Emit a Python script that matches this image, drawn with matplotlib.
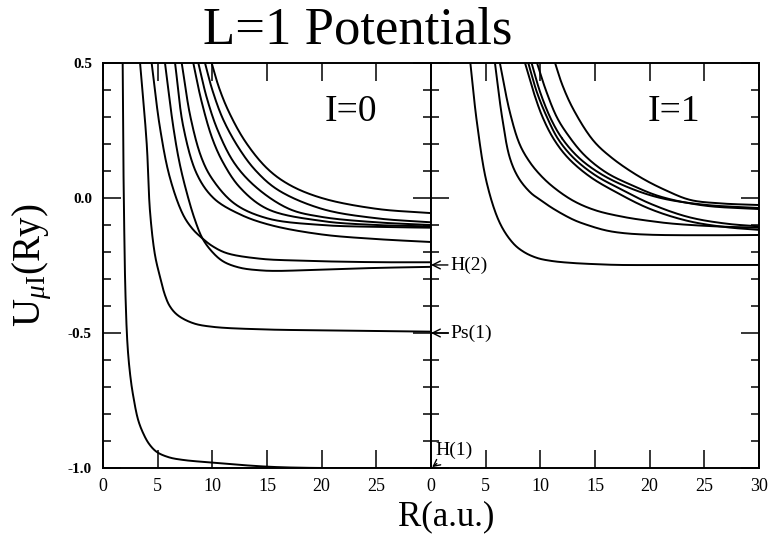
import numpy as np
import matplotlib
matplotlib.use("Agg")
import matplotlib.pyplot as plt
from matplotlib.ticker import MultipleLocator

# ---- data: (R, U) points per potential curve ----
# I = 0 panel
i0_H1_r = [1.80, 1.85, 1.92, 2.05, 2.25, 2.50, 2.75, 3.20, 3.66, 4.20, 4.90, 6.00, 7.30, 10.0, 15.0, 20.0, 30.0]
i0_H1_u = [0.50, 0.20, -0.05, -0.35, -0.55, -0.66, -0.73, -0.82, -0.87, -0.91, -0.94, -0.96, -0.97, -0.98, -0.995, -1.0, -1.0]
i0_Ps1_r = [3.39, 4.00, 4.30, 4.75, 5.20, 5.67, 6.10, 6.80, 8.20, 10.0, 15.0, 20.0, 30.0]
i0_Ps1_u = [0.50, 0.20, -0.05, -0.21, -0.29, -0.36, -0.40, -0.433, -0.463, -0.477, -0.487, -0.49, -0.495]
i0_a_r = [4.45, 5.20, 6.10, 7.30, 8.20, 9.10, 10.0, 11.3, 14.4, 18.0, 22.0, 26.0, 30.0]
i0_a_u = [0.50, 0.263, 0.078, -0.06, -0.115, -0.150, -0.178, -0.204, -0.225, -0.232, -0.236, -0.238, -0.238]
i0_b_r = [5.67, 6.43, 7.00, 7.66, 8.40, 9.10, 10.0, 11.0, 12.5, 14.4, 16.0, 20.0, 25.0, 30.0]
i0_b_u = [0.50, 0.263, 0.13, 0.02, -0.08, -0.150, -0.20, -0.235, -0.258, -0.268, -0.27, -0.265, -0.259, -0.255]
i0_c_r = [6.59, 7.35, 8.57, 10.1, 12.5, 15.3, 20.0, 25.0, 30.0]
i0_c_u = [0.50, 0.263, 0.09, 0.00, -0.06, -0.10, -0.135, -0.152, -0.163]
i0_d_r = [7.20, 8.00, 9.00, 10.0, 12.0, 15.0, 20.0, 25.0, 30.0]
i0_d_u = [0.50, 0.30, 0.15, 0.07, -0.02, -0.075, -0.10, -0.107, -0.11]
i0_e_r = [8.26, 9.00, 10.0, 11.0, 12.5, 15.0, 20.0, 25.0, 30.0]
i0_e_u = [0.50, 0.36, 0.22, 0.13, 0.04, -0.04, -0.085, -0.10, -0.105]
i0_f_r = [8.72, 9.50, 10.5, 12.0, 14.0, 17.0, 20.0, 25.0, 30.0]
i0_f_u = [0.50, 0.37, 0.25, 0.13, 0.04, -0.04, -0.07, -0.09, -0.10]
i0_g_r = [9.33, 10.0, 11.0, 12.5, 14.0, 16.0, 20.0, 25.0, 30.0]
i0_g_u = [0.50, 0.40, 0.29, 0.18, 0.10, 0.03, -0.04, -0.075, -0.09]
i0_h_r = [9.94, 10.6, 11.5, 13.0, 15.0, 17.0, 20.0, 25.0, 30.0]
i0_h_u = [0.50, 0.41, 0.32, 0.21, 0.11, 0.05, 0.00, -0.04, -0.056]

# I = 1 panel
i1_a_r = [3.60, 4.20, 5.10, 6.30, 7.50, 8.50, 9.70, 11.0, 12.7, 15.0, 17.3, 22.0, 30.0]
i1_a_u = [0.50, 0.28, 0.056, -0.093, -0.167, -0.20, -0.222, -0.233, -0.24, -0.245, -0.248, -0.248, -0.248]
i1_b_r = [5.85, 6.50, 7.20, 8.00, 9.10, 10.0, 11.2, 13.0, 14.3, 16.0, 17.6, 20.0, 25.0, 30.0]
i1_b_u = [0.50, 0.30, 0.15, 0.075, 0.02, -0.007, -0.04, -0.08, -0.10, -0.12, -0.13, -0.136, -0.138, -0.137]
i1_c_r = [6.30, 7.20, 8.10, 9.00, 10.0, 11.2, 13.0, 15.0, 17.6, 20.0, 22.1, 26.0, 30.0]
i1_c_u = [0.50, 0.32, 0.20, 0.135, 0.085, 0.04, -0.01, -0.045, -0.07, -0.085, -0.095, -0.105, -0.11]
i1_d_r = [8.60, 9.40, 10.2, 11.2, 12.5, 14.5, 17.0, 20.0, 23.5, 27.0, 30.0]
i1_d_u = [0.50, 0.39, 0.30, 0.22, 0.15, 0.08, 0.02, -0.04, -0.085, -0.108, -0.118]
i1_e_r = [8.90, 9.70, 10.6, 11.6, 13.0, 15.0, 17.5, 20.0, 23.5, 27.0, 30.0]
i1_e_u = [0.50, 0.39, 0.30, 0.22, 0.15, 0.085, 0.03, -0.02, -0.07, -0.095, -0.105]
i1_f_r = [9.20, 10.0, 11.0, 12.0, 13.5, 15.5, 18.0, 21.0, 25.0, 30.0]
i1_f_u = [0.50, 0.39, 0.29, 0.22, 0.15, 0.09, 0.04, 0.00, -0.025, -0.037]
i1_g_r = [9.70, 10.5, 11.5, 12.5, 14.0, 16.0, 18.5, 21.0, 25.0, 30.0]
i1_g_u = [0.50, 0.40, 0.30, 0.235, 0.16, 0.095, 0.045, 0.005, -0.028, -0.041]
i1_h_r = [11.35, 12.0, 13.0, 14.8, 16.5, 19.1, 21.5, 23.7, 26.5, 30.0]
i1_h_u = [0.50, 0.42, 0.33, 0.215, 0.15, 0.078, 0.028, -0.007, -0.02, -0.026]

panel_labels = ["I=0", "I=1"]
title = "L=1 Potentials"
xlabel = "R(a.u.)"
ylabel = r"U$_{\mu\mathrm{I}}$(Ry)"
x_ticks = [0, 5, 10, 15, 20, 25, 30]
y_ticks = [-1.0, -0.5, 0.0, 0.5]
arrow_labels = ["H(2)", "Ps(1)", "H(1)"]
arrow_values = [-0.248, -0.5, -1.0]

i0_curves = [(i0_H1_r, i0_H1_u), (i0_Ps1_r, i0_Ps1_u), (i0_a_r, i0_a_u), (i0_b_r, i0_b_u),
             (i0_c_r, i0_c_u), (i0_d_r, i0_d_u), (i0_e_r, i0_e_u), (i0_f_r, i0_f_u),
             (i0_g_r, i0_g_u), (i0_h_r, i0_h_u)]
i1_curves = [(i1_a_r, i1_a_u), (i1_b_r, i1_b_u), (i1_c_r, i1_c_u), (i1_d_r, i1_d_u),
             (i1_e_r, i1_e_u), (i1_f_r, i1_f_u), (i1_g_r, i1_g_u), (i1_h_r, i1_h_u)]


def smooth_path(r, u, n=30):
    """Centripetal Catmull-Rom drawing path through the read points (rendering only)."""
    p = np.column_stack([np.asarray(r) / 30.0, np.asarray(u) / 1.5])
    p = np.vstack([2 * p[0] - p[1], p, 2 * p[-1] - p[-2]])
    out = []
    for i in range(1, len(p) - 2):
        P0, P1, P2, P3 = p[i - 1], p[i], p[i + 1], p[i + 2]
        t0 = 0.0
        t1 = t0 + np.linalg.norm(P1 - P0) ** 0.5 + 1e-9
        t2 = t1 + np.linalg.norm(P2 - P1) ** 0.5 + 1e-9
        t3 = t2 + np.linalg.norm(P3 - P2) ** 0.5 + 1e-9
        t = np.linspace(t1, t2, n)[:, None]
        A1 = (t1 - t) / (t1 - t0) * P0 + (t - t0) / (t1 - t0) * P1
        A2 = (t2 - t) / (t2 - t1) * P1 + (t - t1) / (t2 - t1) * P2
        A3 = (t3 - t) / (t3 - t2) * P2 + (t - t2) / (t3 - t2) * P3
        B1 = (t2 - t) / (t2 - t0) * A1 + (t - t0) / (t2 - t0) * A2
        B2 = (t3 - t) / (t3 - t1) * A2 + (t - t1) / (t3 - t1) * A3
        C = (t2 - t) / (t2 - t1) * B1 + (t - t1) / (t2 - t1) * B2
        out.append(C)
    c = np.vstack(out)
    return c[:, 0] * 30.0, c[:, 1] * 1.5


plt.rcParams["font.family"] = ["Liberation Serif", "DejaVu Serif"]
plt.rcParams["mathtext.fontset"] = "custom"
plt.rcParams["mathtext.rm"] = "Liberation Serif"
plt.rcParams["mathtext.it"] = "Liberation Serif:italic"

fig = plt.figure(figsize=(7.70, 5.36), dpi=100)
axL = fig.add_axes([103/770, 1 - 468/536, 328/770, 405/536])
axR = fig.add_axes([431/770, 1 - 468/536, 328/770, 405/536], sharey=axL)

for ax, curves, lab, lx in [(axL, i0_curves, panel_labels[0], 0.835),
                            (axR, i1_curves, panel_labels[1], 0.82)]:
    for r, u in curves:
        xs, ys = smooth_path(r, u)
        ax.plot(xs, ys, color="black", lw=1.4, solid_capstyle="round")
    ax.set_xlim(0, 30)
    ax.set_ylim(-1.0, 0.5)
    ax.set_xticks(x_ticks)
    ax.yaxis.set_major_locator(MultipleLocator(0.5))
    ax.yaxis.set_minor_locator(MultipleLocator(0.1))
    ax.tick_params(which="both", direction="in", top=True, right=True, width=1.1)
    ax.tick_params(axis="x", pad=7)
    ax.tick_params(axis="y", pad=8)
    ax.tick_params(which="major", length=13)
    ax.tick_params(which="minor", length=6)
    for s in ax.spines.values():
        s.set_linewidth(1.4)
    ax.text(lx, 0.88, lab, transform=ax.transAxes, ha="right", va="center", fontsize=27)
    ax.tick_params(labelsize=13)

axL.set_yticks(y_ticks)
axL.set_yticklabels(["-1.0", "-0.5", "0.0", "0.5"], fontweight="bold", fontsize=11)
axL.set_xticklabels(["0", "5", "10", "15", "20", "25", ""])
axR.set_xticklabels(["0", "5", "10", "15", "20", "25", "30"])
plt.setp(axR.get_yticklabels(), visible=False)

for lab, v in zip(arrow_labels[:2], arrow_values[:2]):
    axR.annotate(lab, xy=(0, v), xytext=(1.8, v), textcoords="data", fontsize=14,
                 va="center", ha="left",
                 arrowprops=dict(arrowstyle="->", color="black", lw=1.0, shrinkA=0, shrinkB=0,
                                 mutation_scale=14))
axR.annotate(arrow_labels[2], xy=(0, arrow_values[2]), xytext=(0.4, -0.935), fontsize=14,
             va="center", ha="left",
             arrowprops=dict(arrowstyle="->", color="black", lw=1.0, shrinkA=2, shrinkB=1,
                             mutation_scale=12))

fig.text(358/770, 1 - 31/536, title, ha="center", va="center", fontsize=38)
fig.text(446/770, 1 - 517/536, xlabel, ha="center", va="center", fontsize=25)
fig.text(32/770, 1 - 265/536, ylabel, ha="center", va="center", fontsize=28, rotation=90)

fig.savefig("out.png", dpi=100)
